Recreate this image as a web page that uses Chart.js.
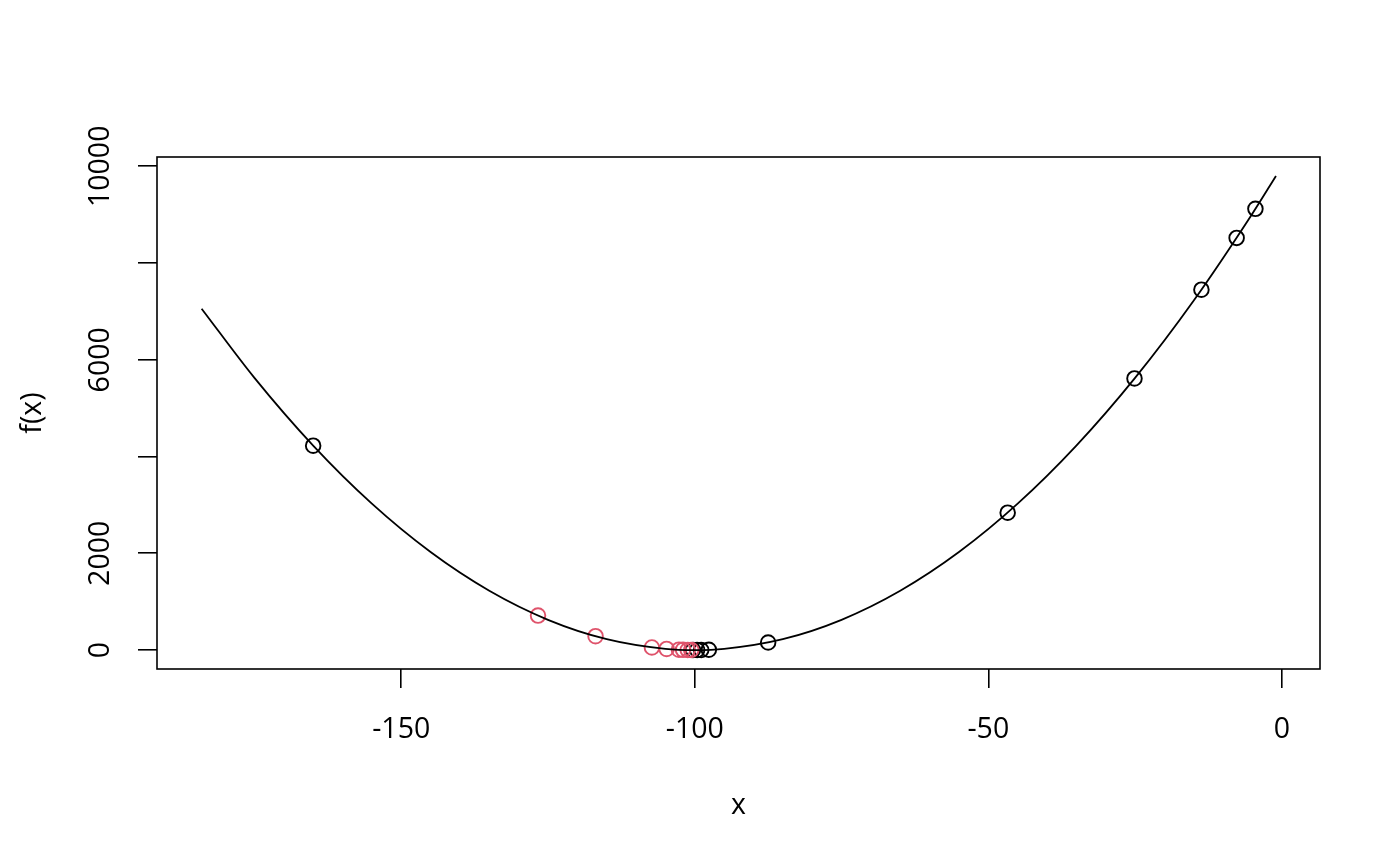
<!DOCTYPE html>
<html>
<head>
<meta charset="utf-8">
<script src="https://cdn.jsdelivr.net/npm/chart.js@4/dist/chart.umd.min.js"></script>
<style>
  html, body { margin: 0; padding: 0; background: #fff; }
  #wrap { width: 1400px; height: 866px; }
</style>
</head>
<body>
<div id="wrap"><canvas id="plot" width="1400" height="866"></canvas></div>
<script>
// кривая f(x), значения
const curveX = [-184, -175, -165, -155, -145, -135, -125, -115, -105, -100, -95, -85, -75, -65, -55, -45, -35, -25, -15, -5, -1];
const curveY = [7056, 5625, 4225, 3025, 2025, 1225, 625, 225, 25, 0, 25, 225, 625, 1225, 2025, 3025, 4225, 5625, 7225, 9025, 9800];

// красные точки (слева от минимума)
const redX = [-126.7, -116.9, -107.3, -104.8, -102.7, -102.0, -101.2, -100.6];
const redY = [712, 286, 53, 23, 7, 4, 1.4, 0.4];

// чёрные точки
const blackX = [-165, -87.5, -97.6, -98.9, -99.6, -100.3, -46.7, -25.1, -13.7, -7.7, -4.5];
const blackY = [4225, 156, 6, 1.2, 0.2, 0.1, 2840, 5615, 7450, 8520, 9120];

const xTicks = [-150, -100, -50, 0];
const yTicks = [0, 2000, 4000, 6000, 8000, 10000];
const yLabels = ['0', '2000', '', '6000', '', '10000'];

const FONT = "'Open Sans', 'Noto Sans', sans-serif";

const toXY = (xs, ys) => xs.map((x, i) => ({ x: x, y: ys[i] }));

// рамка вокруг области графика
const boxPlugin = {
    id: 'box',
    afterDraw(chart) {
        const a = chart.chartArea;
        const ctx = chart.ctx;
        ctx.save();
        ctx.strokeStyle = '#000';
        ctx.lineWidth = 1.6;
        ctx.strokeRect(a.left, a.top, a.right - a.left, a.bottom - a.top);
        ctx.restore();
    }
};

new Chart(document.getElementById('plot'), {
    type: 'scatter',
    data: {
        datasets: [
            {
                type: 'line',
                data: toXY(curveX, curveY),
                borderColor: '#000',
                borderWidth: 1.8,
                pointRadius: 0,
                fill: false,
                cubicInterpolationMode: 'monotone'
            },
            {
                data: toXY(redX, redY),
                pointStyle: 'circle',
                pointRadius: 7.3,
                pointBorderWidth: 1.9,
                borderColor: '#DF536B',
                backgroundColor: 'rgba(0,0,0,0)'
            },
            {
                data: toXY(blackX, blackY),
                pointStyle: 'circle',
                pointRadius: 7.3,
                pointBorderWidth: 1.9,
                borderColor: '#000',
                backgroundColor: 'rgba(0,0,0,0)'
            }
        ]
    },
    options: {
        responsive: false,
        animation: false,
        events: [],
        layout: { padding: { left: 0, top: 157, right: 80, bottom: 0 } },
        plugins: {
            legend: { display: false },
            tooltip: { enabled: false }
        },
        scales: {
            x: {
                type: 'linear',
                min: -191.6,
                max: 6.5,
                afterFit: s => { s.height = 197; },
                afterBuildTicks: s => { s.ticks = xTicks.map(v => ({ value: v })); },
                border: { display: false },
                grid: { drawOnChartArea: false, color: '#000', lineWidth: 1.6, tickLength: 19 },
                ticks: {
                    color: '#000',
                    font: { family: FONT, size: 28.5 },
                    padding: 25,
                    maxRotation: 0,
                    callback: v => String(v)
                },
                title: {
                    display: true,
                    text: 'x',
                    color: '#000',
                    font: { family: FONT, size: 28.5 },
                    padding: { top: 0, bottom: 43 }
                }
            },
            y: {
                type: 'linear',
                min: -392,
                max: 10192,
                afterFit: s => { s.width = 157; },
                afterBuildTicks: s => { s.ticks = yTicks.map(v => ({ value: v })); },
                border: { display: false },
                grid: { drawOnChartArea: false, color: '#000', lineWidth: 1.6, tickLength: 19 },
                ticks: {
                    color: '#000',
                    font: { family: FONT, size: 28.5 },
                    padding: -4,
                    minRotation: 90,
                    maxRotation: 90,
                    crossAlign: 'center',
                    callback: (v, i) => yLabels[yTicks.indexOf(v)]
                },
                title: {
                    display: true,
                    text: 'f(x)',
                    color: '#000',
                    font: { family: FONT, size: 28.5 },
                    padding: { top: 16, bottom: 0 }
                }
            }
        }
    },
    plugins: [boxPlugin]
});
</script>
</body>
</html>
